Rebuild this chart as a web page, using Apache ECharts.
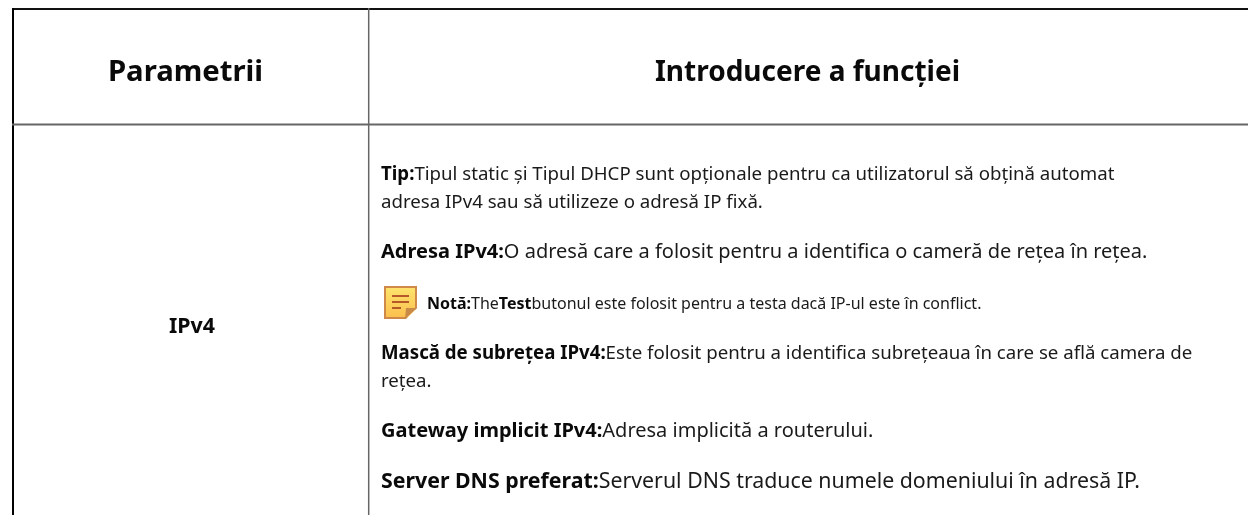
<!DOCTYPE html>
<html>
<head>
<meta charset="utf-8">
<title>Parametrii</title>
<style>html,body{margin:0;padding:0;background:#fff}#main{width:1248px;height:515px}</style>
</head>
<body>
<div id="main"></div>
<script src="https://cdn.jsdelivr.net/npm/echarts@6/dist/echarts.min.js"></script>
<script>
var headers = ['Parametrii', 'Introducere a funcției'];
var rowName = 'IPv4';
// each line: [bold part, normal part, font size, y]
var tipLine1 = ['Tip:', 'Tipul static și Tipul DHCP sunt opționale pentru ca utilizatorul să obțină automat', 18.67, 175];
var tipLine2 = ['', 'adresa IPv4 sau să utilizeze o adresă IP fixă.', 18.67, 203];
var adresaLine = ['Adresa IPv4:', 'O adresă care a folosit pentru a identifica o cameră de rețea în rețea.', 20, 252];
var mascaLine1 = ['Mască de subrețea IPv4:', 'Este folosit pentru a identifica subrețeaua în care se află camera de', 18.67, 354];
var mascaLine2 = ['', 'rețea.', 18.67, 382];
var gatewayLine = ['Gateway implicit IPv4:', 'Adresa implicită a routerului.', 20, 431];
var dnsLine = ['Server DNS preferat:', 'Serverul DNS traduce numele domeniului în adresă IP.', 21.33, 482];
var bodyLines = [tipLine1, tipLine2, adresaLine, mascaLine1, mascaLine2, gatewayLine, dnsLine];
var noteParts = [['b', 'Notă:'], ['n', 'The'], ['b', 'Test'], ['n', 'butonul este folosit pentru a testa dacă IP-ul este în conflict.']];

var FONT = '"Noto Sans", sans-serif';
var chart = echarts.init(document.getElementById('main'));

function richFor(size) {
    return {
        b: {fontFamily: FONT, fontSize: size, fontWeight: 'bold', fill: '#0a0a0a'},
        n: {fontFamily: FONT, fontSize: size, fontWeight: 'normal', fill: '#1a1a1a'}
    };
}
function line(x1, y1, x2, y2, color, width) {
    return {type: 'line', silent: true, shape: {x1: x1, y1: y1, x2: x2, y2: y2},
        style: {stroke: color, lineWidth: width}};
}
function rect(x, y, w, h, fill) {
    return {type: 'rect', silent: true, shape: {x: x, y: y, width: w, height: h}, style: {fill: fill}};
}
function heading(text, x, y, size) {
    return {type: 'text', style: {text: text, x: x, y: y, align: 'center', verticalAlign: 'middle',
        fontFamily: FONT, fontSize: size, fontWeight: 'bold', fill: '#0a0a0a'}};
}

var els = [
    line(12, 9, 1248, 9, '#111', 2),
    line(13, 8, 13, 515, '#000', 2),
    line(12, 124.5, 1248, 124.5, '#666', 2),
    line(368.7, 8, 368.7, 515, '#666', 1.5),
    heading(headers[0], 185.5, 73, 29.3),
    heading(headers[1], 807.5, 73, 28),
    heading(rowName, 192, 327, 21.33)
];

bodyLines.forEach(function (l) {
    var t = (l[0] ? '{b|' + l[0] + '}' : '') + '{n|' + l[1] + '}';
    els.push({type: 'text', style: {text: t, x: 381, y: l[3], verticalAlign: 'middle', rich: richFor(l[2])}});
});

// note icon
els.push(rect(384, 286, 33, 33, '#cf8a4a'));
els.push({type: 'rect', silent: true, shape: {x: 386, y: 288, width: 29, height: 29},
    style: {fill: new echarts.graphic.LinearGradient(0, 0, 0, 1, [{offset: 0, color: '#fde36c'}, {offset: 1, color: '#fcc04e'}])}});
els.push(rect(392, 295, 17, 2, '#b5582a'));
els.push(rect(392, 301, 17, 2, '#b5582a'));
els.push(rect(392, 307, 9, 2, '#b5582a'));
els.push({type: 'polygon', silent: true, shape: {points: [[406, 319], [417, 308], [417, 319]]}, style: {fill: '#fff'}});
els.push({type: 'polygon', silent: true, shape: {points: [[405, 319], [406, 308], [417, 308]]}, style: {fill: '#c98a48'}});

var noteText = noteParts.map(function (p) { return '{' + p[0] + '|' + p[1] + '}'; }).join('');
els.push({type: 'text', style: {text: noteText, x: 427, y: 304, verticalAlign: 'middle', rich: richFor(16)}});

chart.setOption({
    animation: false,
    backgroundColor: '#fff',
    graphic: {elements: els}
});

window.onresize = function () {
    chart.resize();
};
</script>
</body>
</html>
